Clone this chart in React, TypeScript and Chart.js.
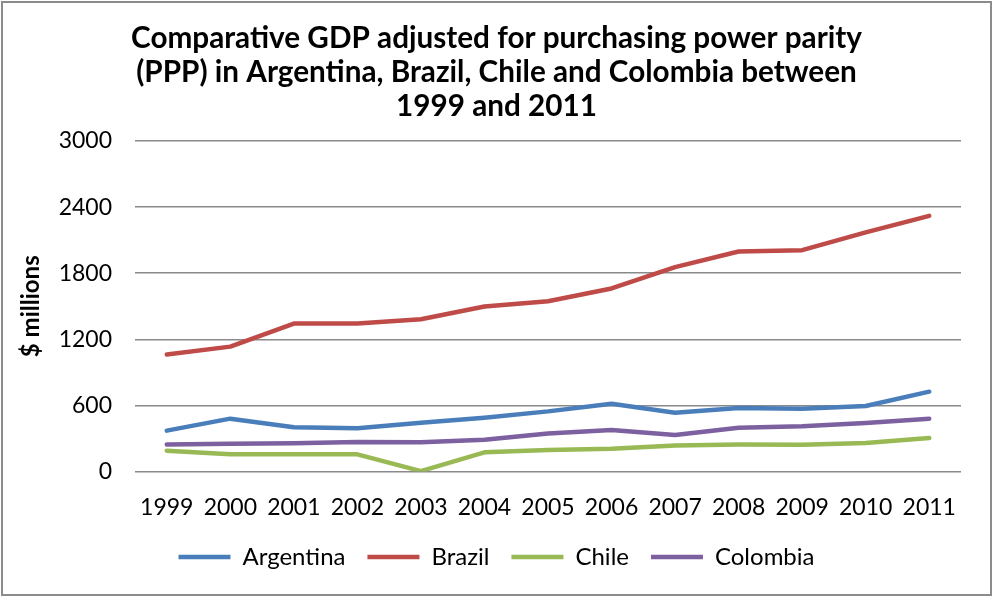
import React, { useEffect, useRef } from "react";
import { Chart, registerables } from "chart.js";

Chart.register(...registerables);

const years = ["1999", "2000", "2001", "2002", "2003", "2004", "2005", "2006", "2007", "2008", "2009", "2010", "2011"];
const argentina = [370, 479, 400, 391, 442, 488, 545, 615, 533, 576, 570, 594, 724];
const brazil = [1061, 1133, 1342, 1342, 1382, 1497, 1545, 1661, 1855, 1997, 2009, 2170, 2321];
const chile = [188, 155, 155, 155, 3, 173, 195, 206, 236, 245, 242, 258, 303];
const colombia = [245, 252, 255, 267, 264, 288, 345, 376, 330, 397, 409, 439, 479];
const titleLines = [
  "Comparative GDP adjusted for purchasing power parity",
  "(PPP) in Argentina, Brazil, Chile and Colombia between",
  "1999 and 2011",
];
const yAxisTitle = "$ millions";

const FONT = "Lato, Carlito, 'Open Sans', sans-serif";

const borderPlugin = {
  id: "outerBorder",
  beforeDraw(chart: any) {
    const { ctx, width, height } = chart;
    ctx.save();
    ctx.fillStyle = "#ffffff";
    ctx.fillRect(0, 0, width, height);
    ctx.restore();
  },
  afterDraw(chart: any) {
    const { ctx, width, height } = chart;
    ctx.save();
    ctx.strokeStyle = "#8c8c8c";
    ctx.lineWidth = 2;
    ctx.strokeRect(2, 2, width - 4, height - 3);
    ctx.restore();
  },
};

export default function App() {
  const ref = useRef<HTMLCanvasElement | null>(null);
  useEffect(() => {
    document.body.style.margin = "0";
    const canvas = ref.current;
    if (!canvas) return;
    Chart.defaults.color = "#000";
    const mk = (label: string, data: number[], color: string) => ({
      label,
      data,
      borderColor: color,
      backgroundColor: color,
      borderWidth: 4.5,
      pointRadius: 0,
      tension: 0,
      borderCapStyle: "round" as const,
      borderJoinStyle: "round" as const,
    });
    const chart = new Chart(canvas, {
      type: "line",
      data: {
        labels: years,
        datasets: [
          mk("Argentina", argentina, "#4A7EBB"),
          mk("Brazil", brazil, "#BE4B48"),
          mk("Chile", chile, "#98B954"),
          mk("Colombia", colombia, "#7D60A0"),
        ],
      },
      options: {
        responsive: false,
        animation: false,
        layout: { padding: { left: 0, right: 0, top: 0, bottom: 17 } },
        plugins: {
          title: {
            display: true,
            text: titleLines,
            color: "#000",
            font: { family: FONT, size: 29.7, weight: "bold", lineHeight: 1.135 },
            padding: { top: 22, bottom: 17.9 },
          },
          legend: {
            position: "bottom",
            labels: {
              usePointStyle: true,
              pointStyle: "line",
              pointStyleWidth: 52,
              boxHeight: 5,
              padding: 22,
              color: "#000",
              font: { family: FONT, size: 24 },
            },
          },
          tooltip: { enabled: false },
        },
        scales: {
          x: {
            offset: true,
            grid: { display: false, drawTicks: false },
            border: { display: false },
            ticks: { padding: 22, font: { family: FONT, size: 23 }, color: "#000", maxRotation: 0 },
            afterFit(scale: any) {
              scale.height = 51.6;
            },
          },
          y: {
            min: 0,
            max: 3000,
            ticks: {
              stepSize: 600,
              padding: 23,
              font: { family: FONT, size: 23 },
              color: "#000",
              callback: (v: any) => String(v),
            },
            grid: { color: "#8a8a8a", lineWidth: 1.5, drawTicks: false },
            border: { display: false },
            title: {
              display: true,
              text: yAxisTitle,
              color: "#000",
              font: { family: FONT, size: 24, weight: "bold" },
              padding: { top: 17, bottom: 0 },
            },
            afterFit(scale: any) {
              scale.width = 135;
            },
          },
          rightSpace: {
            type: "linear",
            position: "right",
            display: true,
            grid: { display: false, drawTicks: false },
            border: { display: false },
            ticks: { display: false },
            afterFit(scale: any) {
              scale.width = 32;
            },
          },
        },
      },
      plugins: [borderPlugin],
    });
    return () => chart.destroy();
  }, []);
  return (
    <div style={{ width: 993, height: 596 }}>
      <canvas ref={ref} width={993} height={596} style={{ display: "block" }} />
    </div>
  );
}
